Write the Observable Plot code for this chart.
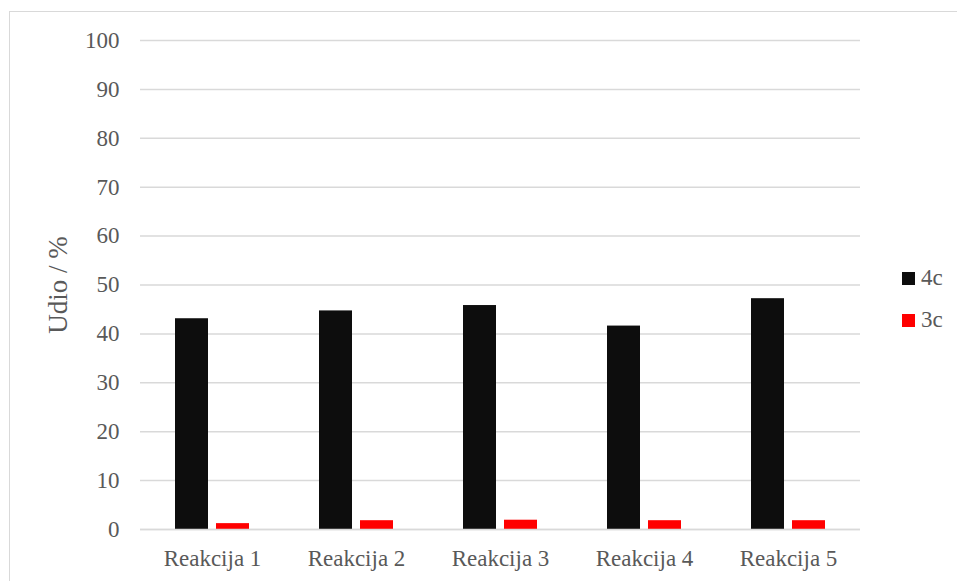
<!DOCTYPE html>
<html>
<head>
<meta charset="utf-8">
<script src="https://cdn.jsdelivr.net/npm/d3@7"></script>
<script src="https://cdn.jsdelivr.net/npm/@observablehq/plot@0.6"></script>
<style>
  html, body { margin: 0; padding: 0; background: #fff; }
  #wrap { position: relative; width: 957px; height: 581px; overflow: hidden; }
  #frame { position: absolute; left: 9px; top: 11px; width: 1000px; height: 700px; border: 1px solid #d9d9d9; box-sizing: border-box; }
  #chart { position: absolute; left: 0; top: 0; }
  #legend { position: absolute; left: 902px; top: 257px; font-family: "Liberation Serif", "Times New Roman", serif; font-size: 23px; color: #595959; }
  .item { display: flex; align-items: center; height: 42px; }
  .sw { width: 13px; height: 13px; margin-right: 6px; }
</style>
</head>
<body>
<div id="wrap">
  <div id="frame"></div>
  <div id="chart"></div>
  <div id="legend"></div>
</div>
<script>
const categories = ["Reakcija 1", "Reakcija 2", "Reakcija 3", "Reakcija 4", "Reakcija 5"];
const seriesNames = ["4c", "3c"];
const values4c = [43.1, 44.7, 45.8, 41.6, 47.2];
const values3c = [1.2, 1.8, 1.9, 1.8, 1.8];
const seriesColors = ["#0d0d0d", "#ff0000"];
const yTicks = [0, 10, 20, 30, 40, 50, 60, 70, 80, 90, 100];

const data = [];
categories.forEach((c, i) => {
  data.push({cat: c, series: "4c", value: values4c[i]});
  data.push({cat: c, series: "3c", value: values3c[i]});
});

const font = '"Liberation Serif", "Times New Roman", serif';

const chart = Plot.plot({
  width: 957,
  height: 581,
  marginLeft: 138,
  marginRight: 95,
  marginTop: 40,
  marginBottom: 52,
  style: {fontFamily: font, fontSize: "23px", color: "#595959", background: "transparent"},
  fx: {domain: categories, padding: 0, label: null},
  x: {domain: seriesNames, paddingInner: 0.19, paddingOuter: 0.82, axis: null},
  y: {domain: [0, 100], ticks: yTicks, label: null},
  color: {domain: seriesNames, range: seriesColors},
  marks: [
    Plot.gridY(yTicks, {stroke: "#d9d9d9", strokeOpacity: 1, strokeWidth: 1.5}),
    Plot.axisY(yTicks, {tickSize: 0, tickPadding: 21, fontSize: 23, fill: "#595959", label: null}),
    Plot.axisFx({anchor: "bottom", tickSize: 0, tickPadding: 20, fontSize: 23, fill: "#595959", label: null}),
    Plot.barY(data, {fx: "cat", x: "series", y: "value", fill: "series"}),
    Plot.ruleY([0], {stroke: "#d9d9d9", strokeWidth: 1.5})
  ]
});
document.getElementById("chart").appendChild(chart);

// y-axis title
const svg = d3.select(chart);
svg.append("text")
  .attr("transform", "translate(61,285) rotate(-90)")
  .attr("text-anchor", "middle")
  .attr("dominant-baseline", "middle")
  .attr("font-family", font)
  .attr("font-size", 27)
  .attr("fill", "#595959")
  .text("Udio / %");

const legend = document.getElementById("legend");
seriesNames.forEach((s, i) => {
  const item = document.createElement("div");
  item.className = "item";
  const sw = document.createElement("div");
  sw.className = "sw";
  sw.style.background = seriesColors[i];
  const t = document.createElement("span");
  t.textContent = s;
  item.appendChild(sw);
  item.appendChild(t);
  legend.appendChild(item);
});
</script>
</body>
</html>
